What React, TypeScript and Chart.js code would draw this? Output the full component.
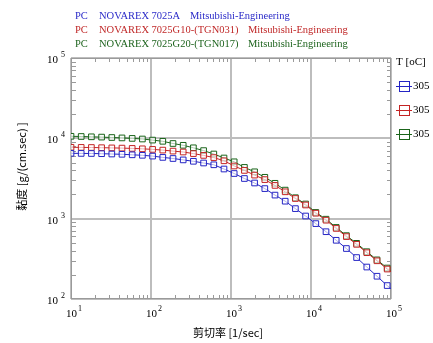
import { useEffect, useRef } from 'react';
import { Chart, registerables } from 'chart.js';

Chart.register(...registerables);

// shear rate [1/sec]
const shearRate = [
  10, 13.41, 17.99, 24.13, 32.36, 43.4, 58.21, 78.07, 104.7, 140.4, 188.4, 252.6,
  338.8, 454.4, 609.5, 817.5, 1096, 1471, 1972, 2646, 3548, 4759, 6383, 8561,
  11482, 15400, 20654, 27702, 37154, 49831, 66834, 89640, 100000,
];
// viscosity [g/(cm.sec)]
const viscA = [
  6510, 6490, 6475, 6437, 6381, 6327, 6237, 6148, 6009, 5789, 5610, 5390,
  5178, 4932, 4684, 4151, 3649, 3162, 2780, 2367, 1965, 1650, 1334, 1079,
  868, 688, 538, 425, 328, 250, 192, 147, 134,
];
const viscG10 = [
  7732, 7711, 7688, 7646, 7602, 7558, 7492, 7408, 7282, 7137, 6934, 6757,
  6455, 6131, 5756, 5253, 4524, 3988, 3486, 3064, 2594, 2160, 1782, 1480,
  1169, 957, 756, 598, 479, 377, 299, 236, 217,
];
const viscG20 = [
  10600, 10540, 10450, 10360, 10240, 10120, 9980, 9810, 9506, 9184, 8620, 8188,
  7623, 7036, 6381, 5690, 5103, 4346, 3831, 3273, 2756, 2267, 1823, 1522,
  1196, 985, 778, 615, 493, 388, 307, 243, 221,
];

const resin = 'PC';
const gradeNames = ['NOVAREX 7025A', 'NOVAREX 7025G10-(TGN031)', 'NOVAREX 7025G20-(TGN017)'];
const makers = ['Mitsubishi-Engineering', 'Mitsubishi-Engineering', 'Mitsubishi-Engineering'];
const temperatures = ['305', '305', '305'];
const legendTitle = 'T [oC]';
const xTitle = '剪切率 [1/sec]';
const yTitle = '黏度 [g/(cm.sec) ]';
const xExponents = [1, 2, 3, 4, 5];
const yExponents = [2, 3, 4, 5];
const minorMultipliers = [2, 3, 4, 5, 6, 7, 8, 9];

const lineColors = ['#2424c4', '#c42424', '#1a641a'];
const textColors = ['#2a2ac8', '#c02828', '#1e641e'];

const SERIF = '"Liberation Serif", "DejaVu Serif", serif';
const CJK = '"Noto Sans CJK SC", "Noto Sans", sans-serif';

const decorPlugin = {
  id: 'decor',
  beforeDatasetsDraw(chart: any) {
    const { ctx, chartArea: a, scales } = chart;
    const xs = scales.x;
    const ys = scales.y;
    ctx.save();
    ctx.strokeStyle = '#9a9a9a';
    ctx.lineWidth = 1;
    ctx.beginPath();
    const tl = 4;
    for (let e = xExponents[0]; e < xExponents[xExponents.length - 1]; e++) {
      for (const m of minorMultipliers) {
        const px = Math.round(xs.getPixelForValue(m * Math.pow(10, e))) + 0.5;
        ctx.moveTo(px, a.bottom);
        ctx.lineTo(px, a.bottom - tl);
        ctx.moveTo(px, a.top);
        ctx.lineTo(px, a.top + tl);
      }
    }
    for (let e = yExponents[0]; e < yExponents[yExponents.length - 1]; e++) {
      for (const m of minorMultipliers) {
        const py = Math.round(ys.getPixelForValue(m * Math.pow(10, e))) + 0.5;
        ctx.moveTo(a.left, py);
        ctx.lineTo(a.left + tl + 1, py);
        ctx.moveTo(a.right, py);
        ctx.lineTo(a.right - tl, py);
      }
    }
    ctx.stroke();
    ctx.strokeStyle = '#9a9a9a';
    ctx.strokeRect(a.left + 0.5, a.top + 0.5, a.right - a.left - 1, a.bottom - a.top - 1);
    ctx.restore();
  },
  afterDraw(chart: any) {
    const { ctx, chartArea: a, scales } = chart;
    const xs = scales.x;
    const ys = scales.y;
    ctx.save();
    ctx.fillStyle = '#000';
    ctx.textBaseline = 'middle';
    for (const e of xExponents) {
      const px = xs.getPixelForValue(Math.pow(10, e));
      ctx.font = `11px ${SERIF}`;
      ctx.textAlign = 'left';
      ctx.fillText('10', px - 5, a.bottom + 15);
      ctx.font = `8px ${SERIF}`;
      ctx.fillText(String(e), px + 7, a.bottom + 10);
    }
    for (const e of yExponents) {
      const py = ys.getPixelForValue(Math.pow(10, e));
      ctx.font = `11px ${SERIF}`;
      ctx.textAlign = 'left';
      ctx.fillText('10', a.left - 24, py + 2);
      ctx.font = `8px ${SERIF}`;
      ctx.fillText(String(e), a.left - 10, py - 3);
    }
    ctx.font = `11px ${CJK}`;
    ctx.textAlign = 'center';
    ctx.fillText(xTitle, (a.left + a.right) / 2 - 3, a.bottom + 34);
    ctx.save();
    ctx.translate(22, (a.top + a.bottom) / 2 - 12);
    ctx.rotate(-Math.PI / 2);
    ctx.fillText(yTitle, 0, 0);
    ctx.restore();
    ctx.font = `10.5px ${SERIF}`;
    ctx.textAlign = 'left';
    const makerX = [190, 248, 248];
    for (let i = 0; i < 3; i++) {
      const y = 16 + i * 14.3;
      ctx.fillStyle = textColors[i];
      ctx.fillText(resin, 75, y);
      ctx.fillText(gradeNames[i], 99, y);
      ctx.fillText(makers[i], makerX[i], y);
    }
    ctx.fillStyle = '#000';
    ctx.font = `11px ${SERIF}`;
    ctx.fillText(legendTitle, a.right + 5, a.top + 4);
    for (let i = 0; i < 3; i++) {
      const y = Math.round(a.top + 28 + i * 24) + 0.5;
      const x0 = a.right + 5;
      ctx.strokeStyle = lineColors[i];
      ctx.lineWidth = 1;
      ctx.beginPath();
      ctx.moveTo(x0, y);
      ctx.lineTo(x0 + 16, y);
      ctx.stroke();
      ctx.strokeRect(x0 + 3.5, y - 5, 10, 10);
      ctx.fillStyle = '#000';
      ctx.fillText(temperatures[i], x0 + 17, y);
    }
    ctx.restore();
  },
};

export default function App() {
  const ref = useRef<HTMLCanvasElement>(null);
  useEffect(() => {
    if (!ref.current) return;
    const last = shearRate.length - 1;
    const mk = (vals: number[], i: number) => ({
      label: gradeNames[i],
      data: shearRate.map((x, k) => ({ x, y: vals[k] })),
      borderColor: lineColors[i],
      borderWidth: 1,
      backgroundColor: 'rgba(255,255,255,0.75)',
      pointStyle: 'rect' as const,
      pointRadius: (c: any) => (c.dataIndex === last ? 0 : 4),
      pointBorderColor: lineColors[i],
      pointBorderWidth: 1,
      pointBackgroundColor: 'rgba(255,255,255,0.65)',
      tension: 0,
      fill: false,
    });
    const chart = new Chart(ref.current, {
      type: 'line',
      data: { datasets: [mk(viscA, 0), mk(viscG10, 1), mk(viscG20, 2)] },
      options: {
        animation: false,
        responsive: true,
        maintainAspectRatio: false,
        layout: { padding: { left: 71, top: 58, right: 42, bottom: 44 } },
        plugins: { legend: { display: false }, tooltip: { enabled: false }, title: { display: false } },
        scales: {
          x: {
            type: 'logarithmic',
            min: 10,
            max: 100000,
            afterBuildTicks: (s: any) => {
              s.ticks = xExponents.map((e) => ({ value: Math.pow(10, e) }));
            },
            afterFit: (s: any) => {
              s.height = 0;
            },
            ticks: { display: false },
            grid: { color: '#bdbdbd', lineWidth: 2, drawTicks: false },
            border: { display: false },
          },
          y: {
            type: 'logarithmic',
            min: 100,
            max: 100000,
            afterBuildTicks: (s: any) => {
              s.ticks = yExponents.map((e) => ({ value: Math.pow(10, e) }));
            },
            afterFit: (s: any) => {
              s.width = 0;
            },
            ticks: { display: false },
            grid: { color: '#bdbdbd', lineWidth: 2, drawTicks: false },
            border: { display: false },
          },
        },
      },
      plugins: [decorPlugin],
    });
    return () => chart.destroy();
  }, []);
  return (
    <div style={{ position: 'fixed', left: 0, top: 0, width: 433, height: 343, background: '#fff' }}>
      <canvas ref={ref} />
    </div>
  );
}
